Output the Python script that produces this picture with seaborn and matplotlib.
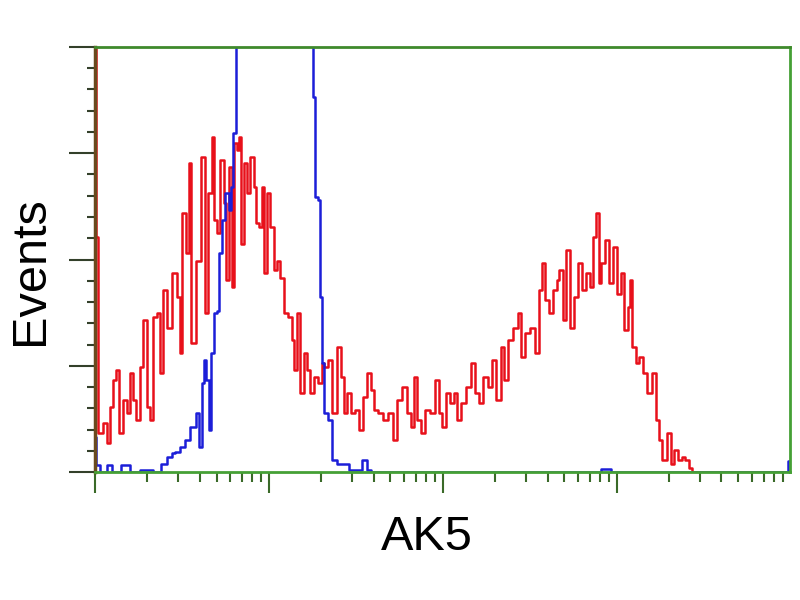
import numpy as np
import pandas as pd
import matplotlib
matplotlib.use("Agg")
import matplotlib.pyplot as plt
from matplotlib.ticker import MultipleLocator, LogLocator, NullFormatter
import seaborn as sns

# histogram channels (1024 channels over 4 log decades) and event counts
red_channel = [0, 3, 7, 15, 19, 24, 29, 34, 38, 44,
               49, 53, 59, 63, 68, 74, 78, 83, 88, 93,
               97, 103, 108, 118, 122, 127, 130, 137, 140, 144,
               152, 159, 164, 169, 174, 177, 181, 187, 192, 194,
               199, 203, 206, 211, 214, 217, 221, 225, 231, 236,
               239, 243, 248, 250, 255, 261, 265, 270, 276, 280,
               287, 292, 295, 299, 305, 309, 314, 320, 324, 332,
               336, 339, 346, 352, 360, 364, 368, 374, 379, 386,
               390, 398, 404, 408, 413, 420, 427, 435, 441, 448,
               455, 463, 467, 471, 477, 482, 489, 497, 504, 508,
               513, 519, 526, 530, 535, 542, 550, 557, 563, 567,
               575, 582, 586, 594, 600, 604, 611, 619, 626, 629,
               637, 644, 651, 656, 660, 666, 670, 678, 681, 685,
               692, 695, 703, 707, 715, 720, 725, 732, 735, 740,
               743, 747, 754, 759, 766, 772, 776, 781, 787, 788,
               794, 799, 803, 810, 816, 824, 828, 832, 838, 846,
               850, 855, 862, 866, 872, 877, 881, 900, 1023]
red_count = [900, 221, 37, 46, 27, 61, 87, 96, 37, 68,
             56, 93, 68, 49, 99, 143, 61, 49, 146, 150,
             93, 171, 136, 187, 165, 112, 244, 206, 291, 121,
             199, 296, 150, 263, 315, 237, 225, 294, 253, 181,
             287, 174, 310, 303, 315, 215, 291, 263, 296, 268,
             234, 231, 268, 187, 263, 231, 190, 199, 183, 150,
             146, 124, 96, 150, 74, 112, 96, 74, 89, 84,
             103, 99, 105, 56, 118, 89, 56, 74, 56, 58,
             40, 71, 93, 77, 58, 56, 49, 56, 30, 68,
             80, 56, 42, 89, 49, 37, 58, 56, 87, 56,
             42, 74, 65, 74, 49, 65, 80, 103, 74, 65,
             89, 80, 105, 68, 118, 87, 124, 136, 150, 108,
             131, 136, 112, 171, 197, 162, 150, 171, 181, 190,
             143, 209, 136, 165, 197, 171, 187, 174, 221, 244,
             178, 197, 218, 178, 212, 168, 187, 134, 155, 181,
             118, 103, 108, 93, 74, 93, 49, 30, 11, 37,
             8, 21, 11, 14, 11, 4, 0, 0, 0]

blue_channel = [0, 4, 12, 22, 28, 49, 55, 77, 93, 100,
                111, 115, 121, 130, 136, 144, 152, 155, 159, 162,
                166, 169, 172, 177, 181, 184, 189, 194, 199, 202,
                205, 209, 320, 322, 327, 330, 333, 336, 339, 346,
                352, 360, 368, 379, 389, 396, 404, 408, 740, 748,
                756, 762, 1018, 1023]
blue_count = [33, 7, 0, 7, 0, 7, 0, 2, 0, 8,
              14, 18, 19, 24, 30, 42, 56, 24, 84, 105,
              87, 40, 112, 150, 152, 206, 237, 263, 247, 268,
              319, 600, 600, 353, 259, 256, 165, 103, 56, 49,
              11, 8, 8, 2, 2, 11, 2, 0, 0, 3,
              3, 0, 0, 10]

red = pd.DataFrame({"AK5": 10 ** (np.array(red_channel) / 256), "Events": red_count})
blue = pd.DataFrame({"AK5": 10 ** (np.array(blue_channel) / 256), "Events": blue_count})

sns.set_style("ticks")
plt.rcParams["font.family"] = ["Liberation Sans", "DejaVu Sans"]

fig = plt.figure(figsize=(8, 6), dpi=100)
ax = fig.add_axes([0.11875, 0.2133, 0.86875, 0.7084])

sns.lineplot(data=red, x="AK5", y="Events", color="#e8101a", lw=1.8,
             drawstyle="steps-mid", estimator=None, errorbar=None, ax=ax)
sns.lineplot(data=blue, x="AK5", y="Events", color="#1c1ed8", lw=1.8,
             drawstyle="steps-mid", estimator=None, errorbar=None, ax=ax)

ax.set_xscale("log")
ax.set_xlim(1, 10 ** (1023 / 256))
ax.set_ylim(0, 400)

ax.xaxis.set_major_locator(LogLocator(base=10, numticks=10))
ax.xaxis.set_minor_locator(LogLocator(base=10, subs=np.arange(2, 10), numticks=20))
ax.xaxis.set_major_formatter(NullFormatter())
ax.xaxis.set_minor_formatter(NullFormatter())
ax.yaxis.set_major_locator(MultipleLocator(100))
ax.yaxis.set_minor_locator(MultipleLocator(20))
ax.yaxis.set_major_formatter(NullFormatter())

ax.tick_params(axis="x", which="major", length=15, width=1.5, color="#3a6a28")
ax.tick_params(axis="x", which="minor", length=7, width=1.5, color="#3a6a28")
ax.tick_params(axis="y", which="major", length=19, width=1.5, color="#33402a")
ax.tick_params(axis="y", which="minor", length=6, width=1.5, color="#33402a")

for side in ["top", "right", "bottom"]:
    ax.spines[side].set_color("#45a035")
    ax.spines[side].set_linewidth(2)
ax.spines["top"].set_color("#3f8a2c")
ax.spines["left"].set_color("#6a4a1e")
ax.spines["left"].set_linewidth(2.5)

ax.set_xlabel("AK5", fontsize=35, color="black")
ax.set_ylabel("Events", fontsize=35, color="black")
ax.xaxis.set_label_coords(0.478, -0.1)
ax.yaxis.set_label_coords(-0.06, 0.475)

fig.savefig("out.png", dpi=100, facecolor="white")
